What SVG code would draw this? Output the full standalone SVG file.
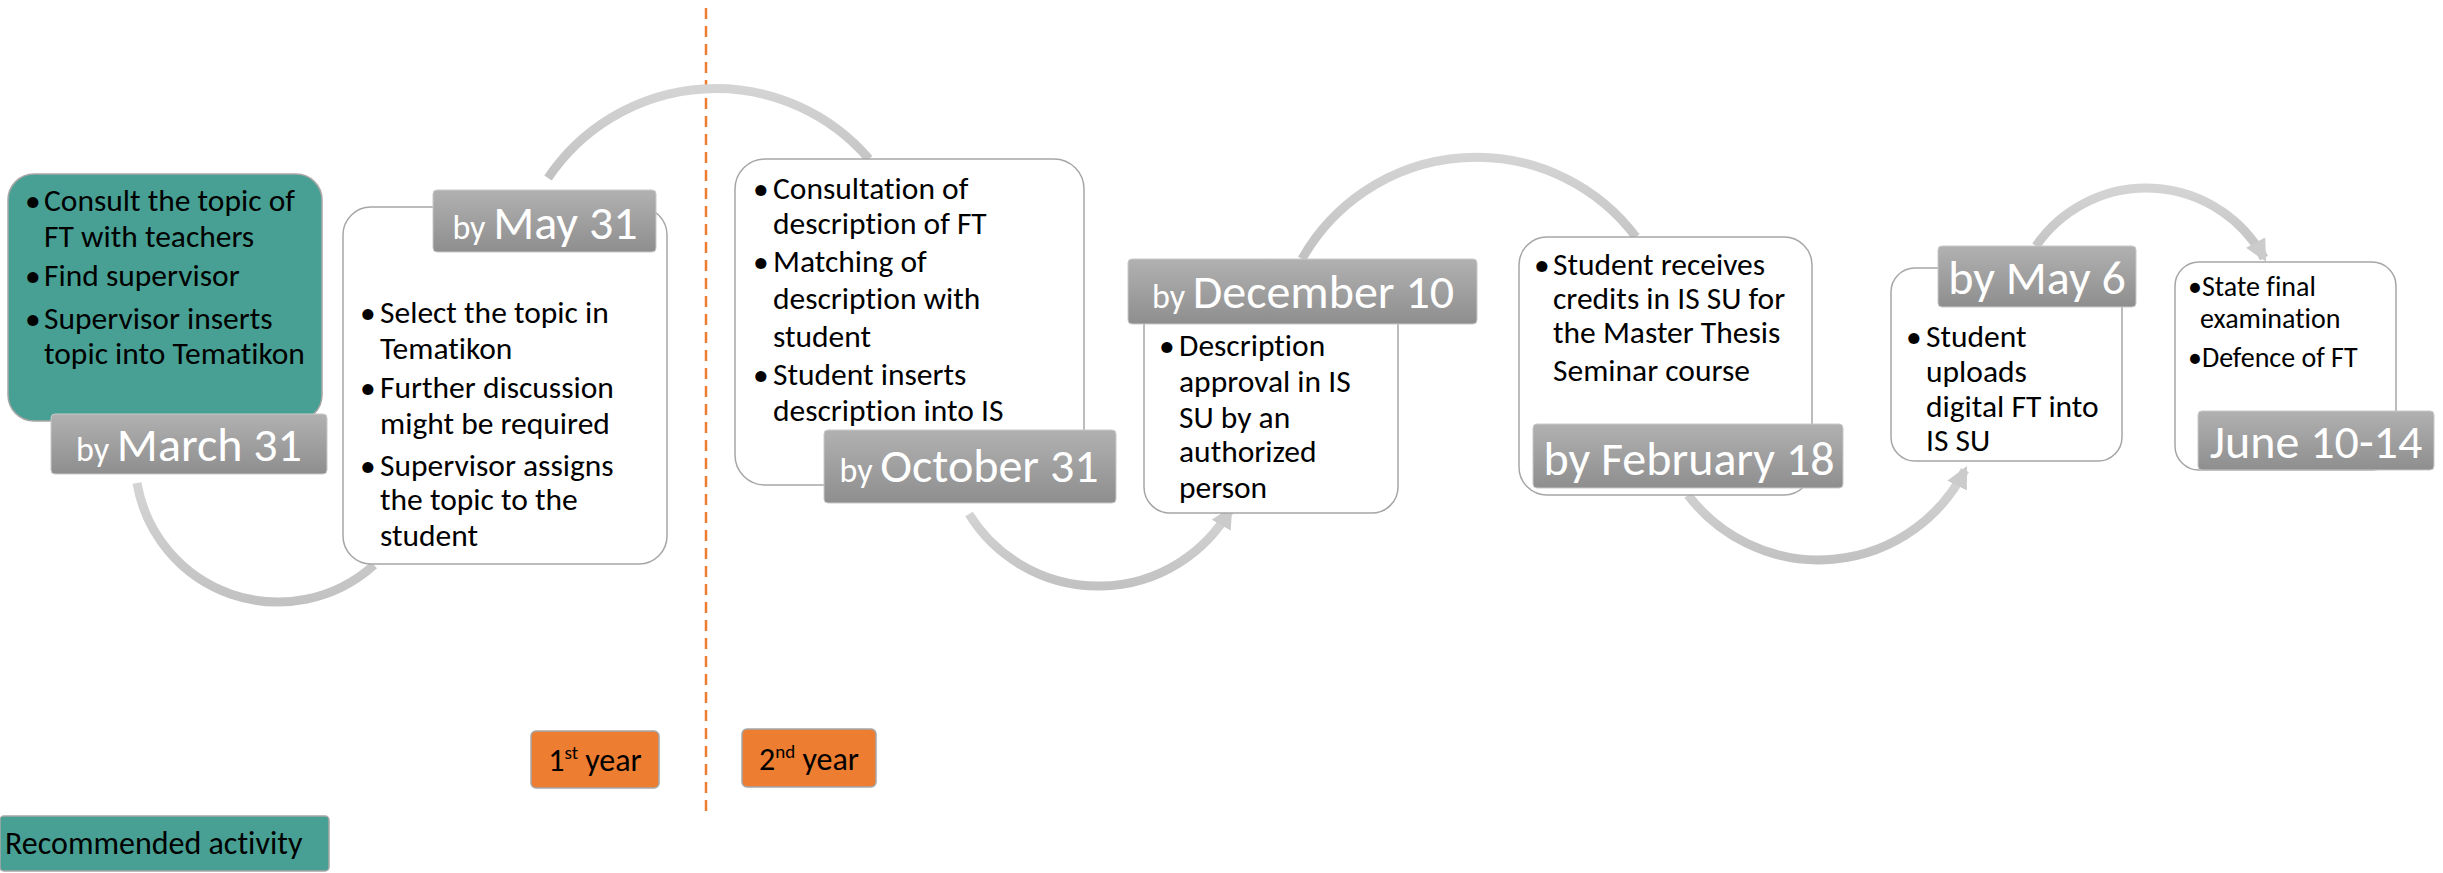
<svg xmlns="http://www.w3.org/2000/svg" width="2443" height="873" viewBox="0 0 2443 873">
<style>
  text { font-variant-ligatures: none; }
  .body { font-family: Carlito, Lato, "Liberation Sans", sans-serif; font-size: 31.5px; fill: #000; }
  .small { font-family: Carlito, Lato, "Liberation Sans", sans-serif; font-size: 28px; fill: #000; }
  .date { font-family: Carlito, Lato, "Liberation Sans", sans-serif; font-size: 48px; fill: #fff; text-anchor: middle; }
  .by { font-size: 34px; }
  .card { fill: #fff; stroke: #a6a6a6; stroke-width: 1.5; }
  .teal { fill: #47a093; stroke: #a6a6a6; stroke-width: 1.5; }
  .datebox { fill: url(#grayGrad); stroke: #c8c8c8; stroke-width: 1; }
  .arc { fill: none; stroke: url(#arcGrad); stroke-width: 9; }
  .year { fill: #ed7d31; stroke: #a6a6a6; stroke-width: 1.5; }
  .yt { font-family: Carlito, Lato, "Liberation Sans", sans-serif; font-size: 32px; fill: #000; text-anchor: middle; }
</style>
<defs>
  <linearGradient id="grayGrad" x1="0" y1="0" x2="0" y2="1">
    <stop offset="0" stop-color="#b1b1b1"/>
    <stop offset="1" stop-color="#8e8e8e"/>
  </linearGradient>
  <linearGradient id="arcGrad" x1="0" y1="0" x2="0" y2="1">
    <stop offset="0" stop-color="#d4d4d4"/>
    <stop offset="1" stop-color="#c2c2c2"/>
  </linearGradient>
  <marker id="arrow" viewBox="0 0 10 10" refX="8" refY="5" markerWidth="22" markerHeight="22" markerUnits="userSpaceOnUse" orient="auto">
    <path d="M0,0 L10,5 L0,10 Z" fill="#cbcbcb"/>
  </marker>
</defs>

<line x1="706" y1="8" x2="706" y2="813" stroke="#ed7d31" stroke-width="2.5" stroke-dasharray="11 7"/>

<g id="connectors">
  <path class="arc" d="M137,483 A143,143 0 0 0 374,565"/>
  <path class="arc" d="M548,178 A202,202 0 0 1 869,159"/>
  <path class="arc" d="M969,514 A152,152 0 0 0 1230,510" marker-end="url(#arrow)"/>
  <path class="arc" d="M1302,259 A200,200 0 0 1 1636,237"/>
  <path class="arc" d="M1688,495 A164,164 0 0 0 1965,470" marker-end="url(#arrow)"/>
  <path class="arc" d="M2036,246 A134,134 0 0 1 2264,258" marker-end="url(#arrow)"/>
</g>

<g id="node-march">
  <rect class="teal" x="8" y="174" width="314" height="247" rx="26"/>
  <text class="body">
    <tspan x="25" y="211">•</tspan><tspan x="44" y="211">Consult the topic of</tspan>
    <tspan x="44" y="247">FT with teachers</tspan>
    <tspan x="25" y="286">•</tspan><tspan x="44" y="286">Find supervisor</tspan>
    <tspan x="25" y="329">•</tspan><tspan x="44" y="329">Supervisor inserts</tspan>
    <tspan x="44" y="364">topic into Tematikon</tspan>
  </text>
  <rect class="datebox" x="51" y="414" width="276" height="60" rx="4"/>
  <text class="date" x="189" y="461"><tspan class="by">by </tspan>March 31</text>
</g>

<g id="node-may31">
  <rect class="card" x="343" y="207" width="324" height="357" rx="28"/>
  <text class="body">
    <tspan x="360" y="323">•</tspan><tspan x="380" y="323">Select the topic in</tspan>
    <tspan x="380" y="359">Tematikon</tspan>
    <tspan x="360" y="398">•</tspan><tspan x="380" y="398">Further discussion</tspan>
    <tspan x="380" y="434">might be required</tspan>
    <tspan x="360" y="476">•</tspan><tspan x="380" y="476">Supervisor assigns</tspan>
    <tspan x="380" y="510">the topic to the</tspan>
    <tspan x="380" y="546">student</tspan>
  </text>
  <rect class="datebox" x="433" y="190" width="223" height="62" rx="4"/>
  <text class="date" x="545" y="239"><tspan class="by">by </tspan>May 31</text>
</g>

<g id="node-oct31">
  <rect class="card" x="735" y="159" width="349" height="326" rx="30"/>
  <text class="body">
    <tspan x="753" y="199">•</tspan><tspan x="773" y="199">Consultation of</tspan>
    <tspan x="773" y="234">description of FT</tspan>
    <tspan x="753" y="272">•</tspan><tspan x="773" y="272">Matching of</tspan>
    <tspan x="773" y="309">description with</tspan>
    <tspan x="773" y="347">student</tspan>
    <tspan x="753" y="385">•</tspan><tspan x="773" y="385">Student inserts</tspan>
    <tspan x="773" y="421">description into IS</tspan>
  </text>
  <rect class="datebox" x="824" y="430" width="292" height="73" rx="4"/>
  <text class="date" x="969" y="482"><tspan class="by">by </tspan>October 31</text>
</g>

<g id="node-dec10">
  <rect class="card" x="1144" y="300" width="254" height="213" rx="26"/>
  <text class="body">
    <tspan x="1159" y="356">•</tspan><tspan x="1179" y="356">Description</tspan>
    <tspan x="1179" y="392">approval in IS</tspan>
    <tspan x="1179" y="428">SU by an</tspan>
    <tspan x="1179" y="462">authorized</tspan>
    <tspan x="1179" y="498">person</tspan>
  </text>
  <rect class="datebox" x="1128" y="259" width="349" height="65" rx="4"/>
  <text class="date" x="1303" y="308"><tspan class="by">by </tspan>December 10</text>
</g>

<g id="node-feb18">
  <rect class="card" x="1519" y="237" width="293" height="258" rx="28"/>
  <text class="body">
    <tspan x="1534" y="275">•</tspan><tspan x="1553" y="275">Student receives</tspan>
    <tspan x="1553" y="309">credits in IS SU for</tspan>
    <tspan x="1553" y="343">the Master Thesis</tspan>
    <tspan x="1553" y="381">Seminar course</tspan>
  </text>
  <rect class="datebox" x="1533" y="424" width="310" height="64" rx="4"/>
  <text class="date" x="1689" y="475">by February 18</text>
</g>

<g id="node-may6">
  <rect class="card" x="1891" y="268" width="231" height="193" rx="24"/>
  <text class="body">
    <tspan x="1906" y="347">•</tspan><tspan x="1926" y="347">Student</tspan>
    <tspan x="1926" y="382">uploads</tspan>
    <tspan x="1926" y="417">digital FT into</tspan>
    <tspan x="1926" y="451">IS SU</tspan>
  </text>
  <rect class="datebox" x="1938" y="246" width="198" height="61" rx="4"/>
  <text class="date" x="2037" y="294">by May 6</text>
</g>

<g id="node-june">
  <rect class="card" x="2175" y="262" width="221" height="208" rx="24"/>
  <text class="small">
    <tspan x="2188" y="296">•State final</tspan>
    <tspan x="2200" y="328">examination</tspan>
    <tspan x="2188" y="367">•Defence of FT</tspan>
  </text>
  <rect class="datebox" x="2198" y="411" width="236" height="59" rx="4"/>
  <text class="date" x="2316" y="458">June 10-14</text>
</g>

<g id="legend-year1">
  <rect class="year" x="531" y="731" width="128" height="57" rx="5"/>
  <text class="yt" x="595" y="771">1<tspan font-size="19" dy="-12">st</tspan><tspan dy="12"> year</tspan></text>
</g>
<g id="legend-year2">
  <rect class="year" x="742" y="729" width="134" height="58" rx="5"/>
  <text class="yt" x="809" y="770">2<tspan font-size="19" dy="-12">nd</tspan><tspan dy="12"> year</tspan></text>
</g>
<g id="legend-recommended">
  <rect class="teal" x="0" y="816" width="329" height="55" rx="4"/>
  <text class="yt" x="5" y="854" style="text-anchor:start">Recommended activity</text>
</g>
</svg>
